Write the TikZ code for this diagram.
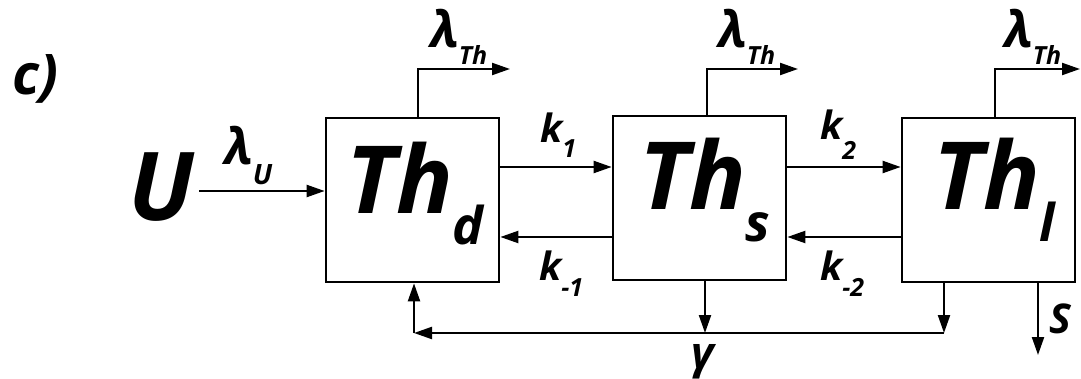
\documentclass[tikz,border=0pt]{standalone}
\usepackage{fontspec}
\setmainfont{Open Sans}
\usetikzlibrary{arrows.meta, positioning, calc}

\newcommand{\fsz}[1]{\fontsize{#1}{#1}\selectfont}
\newcommand{\lowsub}[3]{#1\raisebox{-#2pt}{#3}}

\begin{document}
\begin{tikzpicture}[
			x = 1pt, y = -1pt,
			> = {Triangle[length=18pt, width=12pt]},
			arr/.style = {->, line width=2.2pt},
			blk/.style = {draw, line width=2.7pt, minimum width=173pt, minimum height=164pt},
			lbl/.style = {inner sep=0pt, anchor=base west, font=\bfseries\itshape}
			]
			\useasboundingbox (0,0) rectangle (1081,379);
			
			% Define blocks
			\node[blk] (thd) at (412.5,200) {};
			\node[blk] (ths) at (699.5,198) {};
			\node[blk] (thl) at (988.5,200) {};
			
			% Define labels
			\node[lbl] (tag) at (12,95) {\fsz{56}c)};
			\node[lbl] (U) at (128,221) {\fsz{95}U};
			\node[lbl] (lamu) at (224,165) {\fsz{50}\lowsub{λ}{20}{\fsz{28}U}};
			\node[lbl] (labd) at (346,214) {\fsz{94}\lowsub{Th}{31}{\fsz{52}d}};
			\node[lbl] (labs) at (639,210) {\fsz{94}\lowsub{Th}{32}{\fsz{52}s}};
			\node[lbl] (labl) at (933,210) {\fsz{94}\lowsub{Th}{32}{\fsz{52}l}};
			\node[lbl] (lamd) at (430,48) {\fsz{50}\lowsub{λ}{17}{\fsz{25}Th}};
			\node[lbl] (lams) at (718,48) {\fsz{50}\lowsub{λ}{17}{\fsz{25}Th}};
			\node[lbl] (laml) at (1004,48) {\fsz{50}\lowsub{λ}{17}{\fsz{25}Th}};
			\node[lbl] (kone) at (540,143) {\fsz{39}\lowsub{k}{15}{\fsz{25}1}};
			\node[lbl] (kmone) at (539,280) {\fsz{39}\lowsub{k}{17}{\fsz{25}-1}};
			\node[lbl] (ktwo) at (820,140) {\fsz{39}\lowsub{k}{20}{\fsz{25}2}};
			\node[lbl] (kmtwo) at (820,280) {\fsz{39}\lowsub{k}{17}{\fsz{25}-2}};
			\node[lbl] (gam) at (691,368) {\fsz{44}γ};
			\node[lbl] (S) at (1049,333) {\fsz{41}S};
			
			% Free ends
			\coordinate (outd) at (510,69);
			\coordinate (outs) at (798,69);
			\coordinate (outl) at (1080,69);
			\coordinate (fbl) at (414,333);
			\coordinate (fbm) at (705,333);
			\coordinate (fbr) at (944,333);
			\coordinate (sout) at (1038,355);
			
			% Define transitions
			\draw[arr] ([xshift=5pt]U.east |- 0,191) -- (thd.west |- 0,191);
			\draw[arr] (thd.east |- 0,167) -- (ths.west |- 0,167);
			\draw[arr] (ths.west |- 0,237) -- (thd.east |- 0,237);
			\draw[arr] (ths.east |- 0,167) -- (thl.west |- 0,167);
			\draw[arr] (thl.west |- 0,237) -- (ths.east |- 0,237);
			\draw[arr] (thd.north -| 418,0) |- (outd);
			\draw[arr] (ths.north -| 707,0) |- (outs);
			\draw[arr] (thl.north -| 995,0) |- (outl);
			\draw[arr] (ths.south -| fbm) -- (fbm);
			\draw[arr] (thl.south -| fbr) -- (fbr);
			\draw[arr] (fbr) -- (fbl);
			\draw[arr] (fbl) -- (fbl |- thd.south);
			\draw[arr] (thl.south -| sout) -- (sout);
			
		\end{tikzpicture}
\end{document}
